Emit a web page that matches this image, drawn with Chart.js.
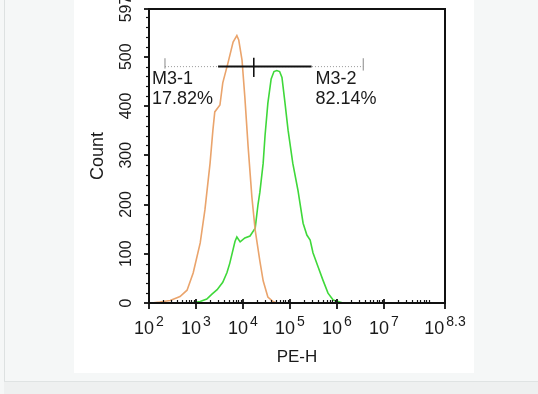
<!DOCTYPE html>
<html>
<head>
<meta charset="utf-8">
<script src="https://cdn.jsdelivr.net/npm/chart.js@4"></script>
<style>
  html, body { margin: 0; padding: 0; }
  body { width: 538px; height: 394px; background: #f5f7f7; position: relative; overflow: hidden; }
  #edge { position: absolute; left: 4px; top: 0; width: 1px; height: 381px; background: #dde1e1; }
  #foot { position: absolute; left: 4px; top: 381px; width: 534px; height: 13px; background: #eef0f0; border-top: 1px solid #dfe3e3; }
  #panel { position: absolute; left: 74px; top: 0; width: 400px; height: 373px; background: #ffffff; }
  #chart { position: absolute; left: 0; top: 0; }
</style>
</head>
<body>
<div id="edge"></div>
<div id="foot"></div>
<div id="panel"></div>
<canvas id="chart" width="538" height="394"></canvas>
<script>
// x values are log10(PE-H), y values are counts
const isoX = [2.05, 2.23, 2.45, 2.66, 2.81, 2.94, 3.09, 3.19, 3.30, 3.36, 3.40, 3.51, 3.57, 3.68, 3.79, 3.87, 3.91, 3.98, 4.04, 4.11, 4.19, 4.26, 4.36, 4.43, 4.53, 4.64, 4.72, 4.90];
const isoY = [0, 2, 5, 13, 26, 61, 122, 189, 284, 351, 388, 402, 447, 487, 530, 543, 534, 493, 418, 317, 215, 148, 85, 45, 12, 3, 0, 0];

const peX = [2.80, 2.94, 3.09, 3.23, 3.34, 3.45, 3.57, 3.66, 3.72, 3.83, 3.87, 3.94, 4.04, 4.15, 4.26, 4.32, 4.36, 4.43, 4.47, 4.53, 4.60, 4.66, 4.72, 4.78, 4.83, 4.89, 4.96, 5.06, 5.17, 5.28, 5.36, 5.43, 5.49, 5.60, 5.70, 5.81, 5.92, 6.13, 6.30];
const peY = [0, 1, 3, 8, 18, 27, 42, 62, 81, 125, 134, 124, 132, 136, 152, 200, 225, 284, 340, 406, 455, 470, 472, 470, 458, 410, 351, 284, 229, 162, 138, 128, 102, 73, 47, 20, 6, 0, 0];

const gateY = 480;
const gateEdges = [2.34, 4.23, 6.56];
const gateSolid = [3.47, 5.46];
const gateNames = ['M3-1', 'M3-2'];
const gatePct = ['17.82%', '82.14%'];

const xMajor = [2, 3, 4, 5, 6, 7, 8.3];
const yMajor = [0, 100, 200, 300, 400, 500, 597];

const FONT = '"Liberation Sans", Arial, Helvetica, sans-serif';
const pts = (xs, ys) => xs.map((x, i) => ({ x: x, y: ys[i] }));

// lower order is drawn on top
const datasets = [
  { data: pts(isoX, isoY), borderColor: '#eaa46c', borderWidth: 1.6, order: 3 },
  { data: pts(peX, peY), borderColor: '#3fd83a', borderWidth: 1.6, order: 4 },
  { data: pts([gateEdges[0], gateEdges[2]], [gateY, gateY]), borderColor: '#9a9a9a', borderWidth: 1, borderDash: [1, 2], order: 6 },
  { data: pts([gateEdges[0], gateEdges[0]], [gateY - 4, gateY + 17]), borderColor: '#888888', borderWidth: 1, order: 5 },
  { data: pts([gateEdges[2], gateEdges[2]], [gateY - 8, gateY + 17]), borderColor: '#888888', borderWidth: 1, order: 5 },
  { data: pts(gateSolid, [gateY, gateY]), borderColor: '#111111', borderWidth: 2, order: 1 },
  { data: pts([gateEdges[1], gateEdges[1]], [gateY - 21, gateY + 18]), borderColor: '#111111', borderWidth: 1.6, order: 0 }
].map(d => Object.assign({ pointRadius: 0, tension: 0, fill: false }, d));

const axesPlugin = {
  id: 'axes',
  afterDatasetsDraw(chart) {
    const ctx = chart.ctx;
    const xs = chart.scales.x, ys = chart.scales.y;
    const a = chart.chartArea;
    ctx.save();
    ctx.setLineDash([]);
    ctx.strokeStyle = '#111';
    ctx.fillStyle = '#1a1a1a';

    // frame
    ctx.lineWidth = 2;
    ctx.strokeRect(a.left, a.top, a.right - a.left, a.bottom - a.top);

    // x ticks
    ctx.lineWidth = 1.2;
    for (let d = 2; d < 9; d++) {
      for (let k = 2; k <= 9; k++) {
        const v = d + Math.log10(k);
        if (v >= 8.3) continue;
        const px = Math.round(xs.getPixelForValue(v)) + 0.5;
        ctx.beginPath(); ctx.moveTo(px, a.bottom); ctx.lineTo(px, a.bottom - 3); ctx.stroke();
      }
    }
    ctx.lineWidth = 1.8;
    xMajor.forEach(v => {
      const px = Math.round(xs.getPixelForValue(v));
      ctx.beginPath(); ctx.moveTo(px, a.bottom - 4); ctx.lineTo(px, a.bottom + 6); ctx.stroke();
    });

    // y ticks
    ctx.lineWidth = 1.2;
    for (let v = 20; v < 597; v += 20) {
      if (v % 100 === 0) continue;
      const py = Math.round(ys.getPixelForValue(v)) + 0.5;
      ctx.beginPath(); ctx.moveTo(a.left, py); ctx.lineTo(a.left - 3, py); ctx.stroke();
    }
    ctx.lineWidth = 1.8;
    yMajor.forEach(v => {
      const py = Math.round(ys.getPixelForValue(v));
      ctx.beginPath(); ctx.moveTo(a.left, py); ctx.lineTo(a.left - 5, py); ctx.stroke();
    });

    // x tick labels 10^n
    ctx.textBaseline = 'alphabetic';
    ctx.textAlign = 'left';
    xMajor.forEach(v => {
      const px = xs.getPixelForValue(v);
      ctx.font = '18px ' + FONT;
      const w1 = ctx.measureText('10').width;
      ctx.font = '14px ' + FONT;
      const sup = String(v);
      const w2 = ctx.measureText(sup).width;
      const x0 = px - (w1 + 2 + w2) / 2;
      ctx.font = '18px ' + FONT;
      ctx.fillText('10', x0, a.bottom + 31);
      ctx.font = '14px ' + FONT;
      ctx.fillText(sup, x0 + w1 + 2, a.bottom + 23);
    });

    // y tick labels, rotated
    ctx.font = '16px ' + FONT;
    ctx.textAlign = 'center';
    ctx.textBaseline = 'middle';
    yMajor.forEach(v => {
      const py = ys.getPixelForValue(v);
      ctx.save();
      ctx.translate(a.left - 22, py);
      ctx.rotate(-Math.PI / 2);
      ctx.fillText(String(v), 0, 0);
      ctx.restore();
    });

    // axis titles
    ctx.font = '17px ' + FONT;
    ctx.textBaseline = 'alphabetic';
    ctx.fillText('PE-H', (a.left + a.right) / 2, a.bottom + 59);
    ctx.save();
    ctx.translate(a.left - 51, (a.top + a.bottom) / 2);
    ctx.rotate(-Math.PI / 2);
    ctx.textBaseline = 'middle';
    ctx.font = '18px ' + FONT;
    ctx.fillText('Count', 0, 0);
    ctx.restore();

    // gate labels
    ctx.textAlign = 'left';
    ctx.textBaseline = 'alphabetic';
    ctx.font = '18px ' + FONT;
    const gy = ys.getPixelForValue(gateY);
    const lx = [xs.getPixelForValue(gateEdges[0]) - 13, xs.getPixelForValue(gateSolid[1]) + 4];
    lx.forEach((x, i) => {
      ctx.fillText(gateNames[i], x, gy + 17);
      ctx.fillText(gatePct[i], x, gy + 37);
    });
    ctx.restore();
  }
};

new Chart(document.getElementById('chart'), {
  type: 'line',
  data: { datasets: datasets },
  options: {
    responsive: false,
    devicePixelRatio: 1,
    animation: false,
    layout: { padding: { left: 149, top: 9, right: 93, bottom: 91 } },
    plugins: { legend: { display: false }, tooltip: { enabled: false } },
    scales: {
      x: { type: 'linear', min: 2, max: 8.3, display: false },
      y: { type: 'linear', min: 0, max: 597, display: false }
    }
  },
  plugins: [axesPlugin]
});
</script>
</body>
</html>
